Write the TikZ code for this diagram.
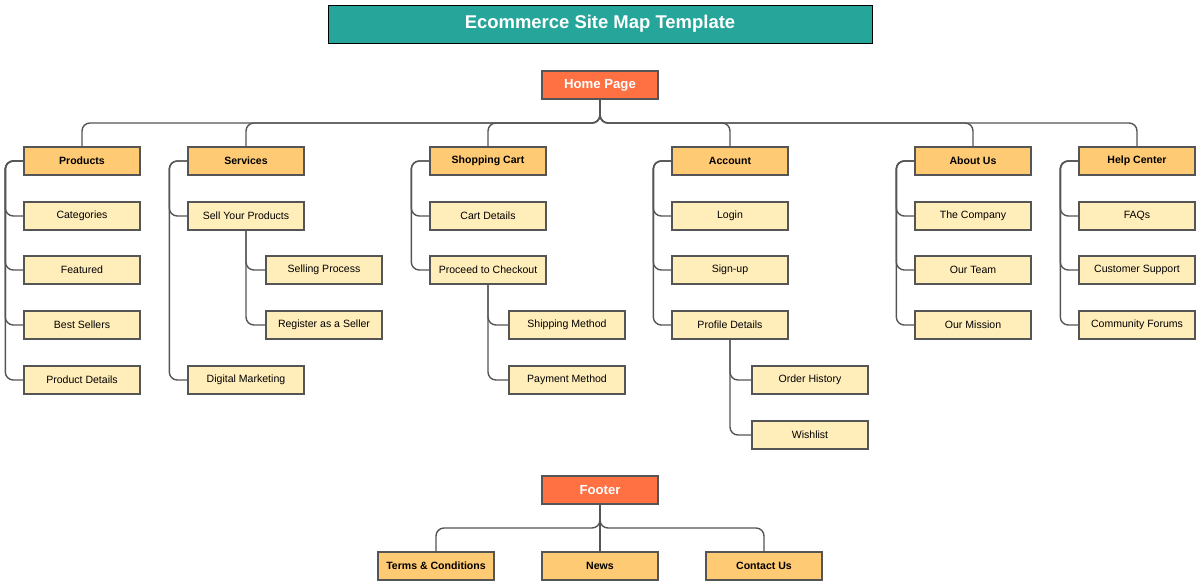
\documentclass[tikz,border=0pt]{standalone}
\usepackage{fontspec}
\setmainfont{Liberation Sans}
\usetikzlibrary{positioning}
\definecolor{teal1}{HTML}{26A69A}
\definecolor{homec}{HTML}{FF7043}
\definecolor{secc}{HTML}{FFCA74}
\definecolor{leafc}{HTML}{FFEDBA}
\definecolor{linec}{HTML}{555555}
\tikzset{
  box/.style={draw=linec, thick, minimum width=2.32cm, minimum height=0.56cm, inner sep=0pt, font=\fontsize{6}{7}\selectfont},
  topbox/.style={box, fill=homec, text=white, font=\fontsize{7.5}{9}\selectfont\bfseries},
  secbox/.style={box, fill=secc, font=\fontsize{6}{7}\selectfont\bfseries},
  leafbox/.style={box, fill=leafc},
  link/.style={draw=linec, thick, rounded corners=0.16cm}
}
\begin{document}
\begin{tikzpicture}[x=0.02cm, y=-0.02cm]
    \useasboundingbox (0,0) rectangle (1200,585);
    % Title
    \node[draw=black, fill=teal1, text=white, minimum width=10.88cm, minimum height=0.76cm,
          font=\fontsize{10.5}{12}\selectfont\bfseries] (title) at (600,24) {Ecommerce Site Map Template};

    % Home page and sections
    \node[topbox] (home) at (600,85) {Home Page};
    \coordinate (bus) at (600,123);
    \node[secbox] (prod) at (82,161) {Products};
    \node[secbox] (serv) at (246,161) {Services};
    \node[secbox] (cart) at (488,161) {Shopping Cart};
    \node[secbox] (acct) at (730,161) {Account};
    \node[secbox] (about) at (973,161) {About Us};
    \node[secbox] (help) at (1137,161) {Help Center};
    \foreach \s in {prod,serv,cart,acct,about,help} {
        \draw[link] (home.south) -- (home.south |- bus) -| (\s.north);
    }

    % Products
    \node[leafbox] (cat) at (82,216) {Categories};
    \node[leafbox] (feat) at (82,270) {Featured};
    \node[leafbox] (best) at (82,325) {Best Sellers};
    \node[leafbox] (pdet) at (82,380) {Product Details};
    \foreach \c in {cat,feat,best,pdet} {
        \draw[link] (prod.west) -- ++(-18,0) |- (\c.west);
    }

    % Services
    \node[leafbox] (sell) at (246,216) {Sell Your Products};
    \node[leafbox] (dig) at (246,380) {Digital Marketing};
    \node[leafbox] (sproc) at (324,270) {Selling Process};
    \node[leafbox] (reg) at (324,325) {Register as a Seller};
    \foreach \c in {sell,dig} {
        \draw[link] (serv.west) -- ++(-18,0) |- (\c.west);
    }
    \foreach \c in {sproc,reg} {
        \draw[link] (sell.south) |- (\c.west);
    }

    % Shopping cart
    \node[leafbox] (cdet) at (488,216) {Cart Details};
    \node[leafbox] (chk) at (488,270) {Proceed to Checkout};
    \node[leafbox] (ship) at (567,325) {Shipping Method};
    \node[leafbox] (pay) at (567,380) {Payment Method};
    \foreach \c in {cdet,chk} {
        \draw[link] (cart.west) -- ++(-18,0) |- (\c.west);
    }
    \foreach \c in {ship,pay} {
        \draw[link] (chk.south) |- (\c.west);
    }

    % Account
    \node[leafbox] (login) at (730,216) {Login};
    \node[leafbox] (sign) at (730,270) {Sign-up};
    \node[leafbox] (prof) at (730,325) {Profile Details};
    \node[leafbox] (hist) at (810,380) {Order History};
    \node[leafbox] (wish) at (810,435) {Wishlist};
    \foreach \c in {login,sign,prof} {
        \draw[link] (acct.west) -- ++(-18,0) |- (\c.west);
    }
    \foreach \c in {hist,wish} {
        \draw[link] (prof.south) |- (\c.west);
    }

    % About us
    \node[leafbox] (comp) at (973,216) {The Company};
    \node[leafbox] (team) at (973,270) {Our Team};
    \node[leafbox] (miss) at (973,325) {Our Mission};
    \foreach \c in {comp,team,miss} {
        \draw[link] (about.west) -- ++(-18,0) |- (\c.west);
    }

    % Help center
    \node[leafbox] (faq) at (1137,216) {FAQs};
    \node[leafbox] (supp) at (1137,270) {Customer Support};
    \node[leafbox] (forum) at (1137,325) {Community Forums};
    \foreach \c in {faq,supp,forum} {
        \draw[link] (help.west) -- ++(-18,0) |- (\c.west);
    }

    % Footer
    \node[topbox] (foot) at (600,490) {Footer};
    \coordinate (fbus) at (600,528);
    \node[secbox] (terms) at (436,566) {Terms \& Conditions};
    \node[secbox] (news) at (600,566) {News};
    \node[secbox] (cont) at (764,566) {Contact Us};
    \foreach \s in {terms,news,cont} {
        \draw[link] (foot.south) -- (foot.south |- fbus) -| (\s.north);
    }
\end{tikzpicture}
\end{document}
